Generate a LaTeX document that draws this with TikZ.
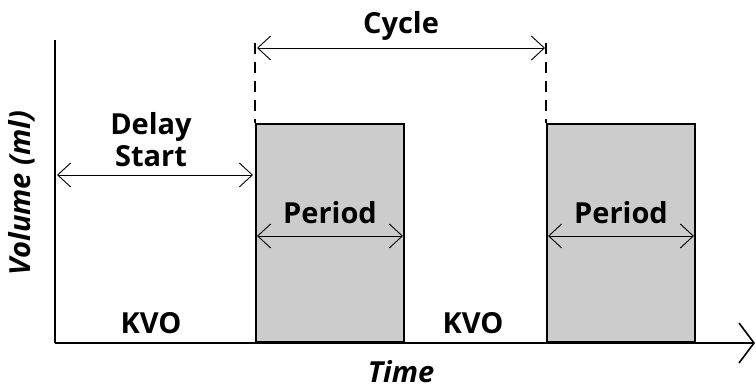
\documentclass[tikz,border=0pt]{standalone}
\usepackage{fontspec}
\setmainfont{Open Sans}
\usepackage{tikz}
\usetikzlibrary{calc, arrows.meta, positioning}

\tikzset{
    period box/.style={draw, line width=2pt, fill=black!20, anchor=south west,
        minimum width=148pt, minimum height=218pt, inner sep=0pt},
    dim/.style={line width=0.9pt, {Straight Barb[length=13pt,width=24pt]}-{Straight Barb[length=13pt,width=24pt]}},
    lbl/.style={font=\fontsize{29}{32}\selectfont\bfseries, inner sep=0pt, align=center},
    axlbl/.style={font=\fontsize{29}{32}\selectfont\bfseries\itshape, inner sep=0pt}
}

\begin{document}
\begin{tikzpicture}[x=1pt, y=1pt]
    \useasboundingbox (0,0) rectangle (756,390);

    % Các khối Period
    \foreach \n/\x in {1/255, 2/546} {
        \node[period box] (p\n) at (\x,47) {};
        \draw[dim] ($(p\n.west)+(2,-3)$) coordinate (pl\n) -- ($(p\n.east)+(-2,-3)$) coordinate (pr\n);
        \node[lbl] (per\n) at ($(p\n.north)+(0,-90)$) {Period};
    }

    % Hệ trục
    \coordinate (O) at (55,47);
    \coordinate (ytop) at (55,350);
    \coordinate (xend) at (755,47);
    \draw[line width=2pt] (ytop) -- (O);
    \draw[line width=2pt, -{Straight Barb[length=15pt,width=40pt,line width=1.6pt]}] (O) -- (xend);
    \node[axlbl, rotate=90] (vol) at (22,197) {Volume (ml)};
    \node[axlbl] (time) at (401,18) {Time};

    % Chu kỳ
    \coordinate (c1) at (255,347);
    \coordinate (c2) at (546,347);
    \draw[line width=1.4pt, dash pattern=on 11pt off 8pt] (c1) -- (p1.north west);
    \draw[line width=1.4pt, dash pattern=on 11pt off 8pt] (c2) -- (p2.north west);
    \draw[dim] ($(c1)+(2,-5)$) coordinate (cl) -- ($(c2)+(-1,-5)$) coordinate (cr);
    \node[lbl] (cycle) at (401,364) {Cycle};

    % Delay Start
    \coordinate (ds) at ($(O)+(2,168)$);
    \draw[dim] (ds) -- ($(p1.south west)+(-2,168)$);
    \node[lbl] (delay) at (151,250) {Delay\\Start};

    % KVO
    \node[lbl] (kvo1) at (151,67) {KVO};
    \node[lbl] (kvo2) at (473,67) {KVO};
\end{tikzpicture}
\end{document}
